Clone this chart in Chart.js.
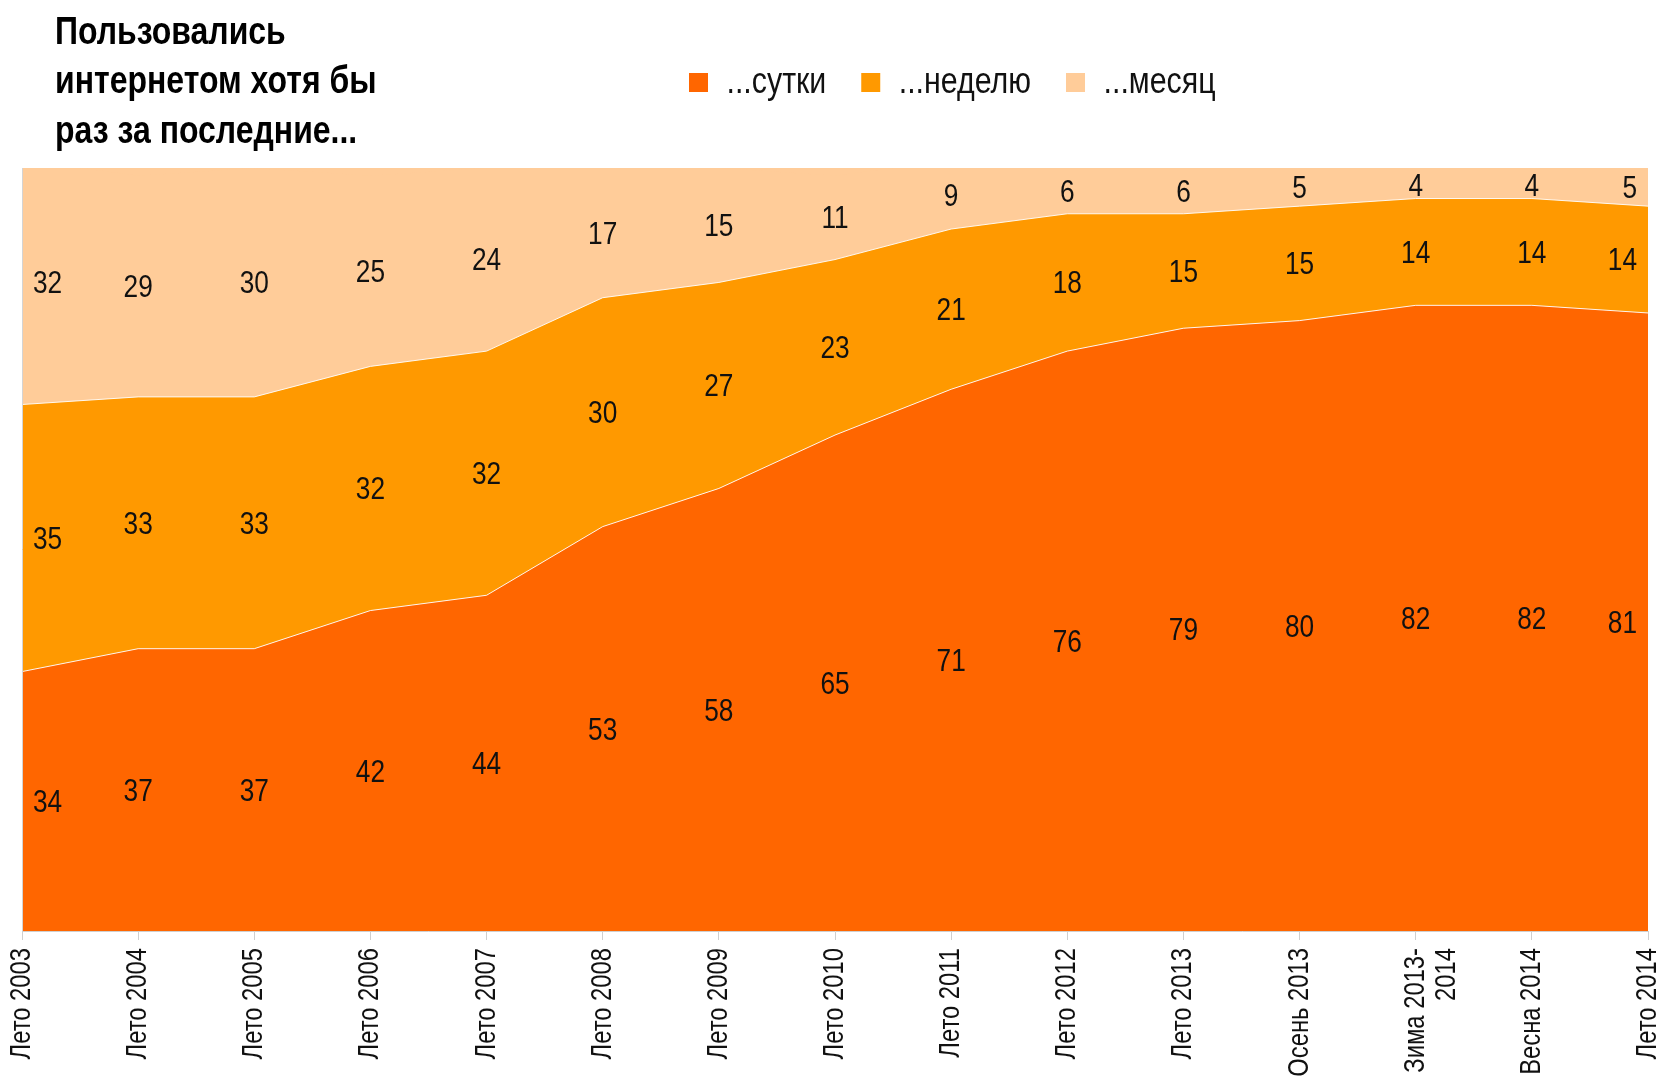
<!DOCTYPE html>
<html>
<head>
<meta charset="utf-8">
<script src="https://cdn.jsdelivr.net/npm/chart.js@4.4.1/dist/chart.umd.min.js"></script>
<style>
html,body{margin:0;padding:0;background:#fff;}
#wrap{width:1668px;height:1078px;position:relative;}
</style>
</head>
<body>
<div id="wrap"><canvas id="c" width="1668" height="1078"></canvas></div>
<script>
// ---- data ----
const titleLines = ['Пользовались', 'интернетом хотя бы', 'раз за последние...'];
const categories = ['Лето 2003', 'Лето 2004', 'Лето 2005', 'Лето 2006', 'Лето 2007', 'Лето 2008',
  'Лето 2009', 'Лето 2010', 'Лето 2011', 'Лето 2012', 'Лето 2013', 'Осень 2013',
  ['Зима 2013-', '2014'], 'Весна 2014', 'Лето 2014'];
const seriesNames = ['...сутки', '...неделю', '...месяц'];
const dayValues   = [34, 37, 37, 42, 44, 53, 58, 65, 71, 76, 79, 80, 82, 82, 81];
const weekValues  = [35, 33, 33, 32, 32, 30, 27, 23, 21, 18, 15, 15, 14, 14, 14];
const monthValues = [32, 29, 30, 25, 24, 17, 15, 11,  9,  6,  6,  5,  4,  4,  5];

// ---- styles ----
const COLORS = ['#FF6600', '#FF9900', '#FFCC99'];
const FONT = "'Liberation Sans', Arial, sans-serif";
const NARROW = 0.82; // horizontal text compression, emulating a narrow face

const canvas = document.getElementById('c');
const ctx2d = canvas.getContext('2d');
(function condenseText(ctx, sx) {
  const origFill = ctx.fillText.bind(ctx);
  const origMeasure = ctx.measureText.bind(ctx);
  ctx.fillText = function (text, x, y, maxWidth) {
    ctx.save();
    ctx.translate(x, y);
    ctx.scale(sx, 1);
    if (maxWidth !== undefined) origFill(text, 0, 0, maxWidth / sx); else origFill(text, 0, 0);
    ctx.restore();
  };
  ctx.measureText = function (text) {
    const m = origMeasure(text);
    return {
      width: m.width * sx,
      actualBoundingBoxLeft: m.actualBoundingBoxLeft * sx,
      actualBoundingBoxRight: m.actualBoundingBoxRight * sx,
      actualBoundingBoxAscent: m.actualBoundingBoxAscent,
      actualBoundingBoxDescent: m.actualBoundingBoxDescent,
      fontBoundingBoxAscent: m.fontBoundingBoxAscent,
      fontBoundingBoxDescent: m.fontBoundingBoxDescent
    };
  };
})(ctx2d, NARROW);

const plotBackground = {
  id: 'plotBackground',
  beforeDraw(chart) {
    const {ctx, chartArea: a} = chart;
    ctx.save();
    ctx.fillStyle = COLORS[2];
    ctx.fillRect(a.left, a.top, a.right - a.left, a.bottom - a.top);
    ctx.restore();
  },
  afterDatasetsDraw(chart) {
    const {ctx, chartArea: a} = chart;
    ctx.save();
    ctx.strokeStyle = '#d4d4d4';
    ctx.lineWidth = 1;
    ctx.beginPath();
    ctx.moveTo(a.left + 0.5, a.top);
    ctx.lineTo(a.left + 0.5, a.bottom);
    ctx.stroke();
    ctx.restore();
  }
};

const layoutFix = {
  id: 'layoutFix',
  afterLayout(chart) {
    const t = chart.titleBlock;
    if (t) {
      const w = t.right - t.left;
      t.left = 55; t.right = t.left + w;
    }
    const lg = chart.legend;
    if (lg) {
      const w = 1000, h = 90;
      lg.left = 654; lg.right = lg.left + w; lg.width = w;
      lg.top = 29; lg.bottom = lg.top + h; lg.height = h;
    }
  }
};

const valueLabels = {
  id: 'valueLabels',
  afterDatasetsDraw(chart) {
    const {ctx, chartArea, scales: {x, y}} = chart;
    ctx.save();
    ctx.font = '32px ' + FONT;
    ctx.fillStyle = '#111';
    ctx.textAlign = 'center';
    ctx.textBaseline = 'middle';
    const series = chart.data.datasets.map(d => d.data);
    categories.forEach((c, j) => {
      let cum = 0;
      series.forEach(arr => {
        const v = arr[j];
        const yy = y.getPixelForValue(cum + v / 2) + 2;
        cum += v;
        const txt = String(v);
        const w = ctx.measureText(txt).width;
        let xx = x.getPixelForValue(j);
        xx = Math.max(chartArea.left + 11 + w / 2, Math.min(chartArea.right - 11 - w / 2, xx));
        ctx.fillText(txt, xx, Math.max(chartArea.top + 19, yy));
      });
    });
    ctx.restore();
  }
};

new Chart(canvas, {
  type: 'line',
  data: {
    labels: categories,
    datasets: [
      {label: seriesNames[0], data: dayValues, backgroundColor: COLORS[0], borderColor: 'rgba(255,255,255,0.9)', borderWidth: 1, fill: 'origin'},
      {label: seriesNames[1], data: weekValues, backgroundColor: COLORS[1], borderColor: 'rgba(255,255,255,0.9)', borderWidth: 1, fill: '-1'},
      {label: seriesNames[2], data: monthValues, backgroundColor: COLORS[2], borderColor: COLORS[2], borderWidth: 0, fill: '-1'}
    ]
  },
  options: {
    responsive: false,
    animation: false,
    devicePixelRatio: 1,
    layout: {padding: {left: 22, right: 20, top: 0, bottom: 0}},
    elements: {line: {tension: 0}, point: {radius: 0, hoverRadius: 0}},
    plugins: {
      title: {
        display: true,
        text: titleLines,
        align: 'start',
        color: '#000',
        font: {family: FONT, size: 39, weight: 'bold', lineHeight: 49.5 / 39},
        padding: {top: 8, bottom: 10.5}
      },
      legend: {
        display: true,
        position: 'top',
        align: 'start',
        maxHeight: 1,
        labels: {
          color: '#111',
          font: {family: FONT, size: 37},
          boxWidth: 19,
          boxHeight: 19,
          padding: 35,
          generateLabels(chart) {
            return chart.data.datasets.map((d, i) => ({
              text: d.label, fillStyle: d.backgroundColor, strokeStyle: d.backgroundColor,
              lineWidth: 0, hidden: false, datasetIndex: i, fontColor: '#111'
            }));
          }
        }
      },
      tooltip: {enabled: false}
    },
    scales: {
      x: {
        type: 'category',
        offset: false,
        grid: {display: true, drawOnChartArea: false, drawTicks: true, tickLength: 9, color: '#cfcfcf'},
        border: {display: true, color: '#cfcfcf'},
        ticks: {autoSkip: false, maxRotation: 90, minRotation: 90, padding: 8, color: '#111',
          font: {family: FONT, size: 29, lineHeight: 1.07}},
        afterFit(s) { s.height = 147; s.paddingLeft = 0; s.paddingRight = 0; }
      },
      y: {stacked: true, min: 0, max: 100, display: false}
    }
  },
  plugins: [plotBackground, layoutFix, valueLabels]
});
</script>
</body>
</html>
